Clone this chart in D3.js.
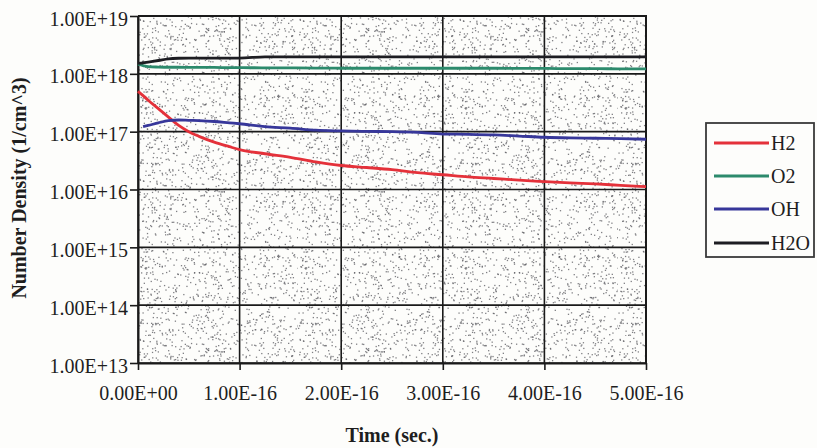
<!DOCTYPE html>
<html>
<head>
<meta charset="utf-8">
<script src="https://cdn.jsdelivr.net/npm/d3@7"></script>
<style>
  html, body { margin: 0; padding: 0; background: #fdfdfb; }
  svg { display: block; }
  text { font-family: "Liberation Serif", "Times New Roman", serif; fill: #1e1e1e; }
</style>
</head>
<body>
<svg id="chart" width="817" height="448"></svg>
<script>
// Time samples, in units of 1e-16 s
const timeUnits = [0, 0.05, 0.1, 0.2, 0.3, 0.4, 0.5, 0.6, 0.75, 0.9, 1.0, 1.25, 1.5, 1.75,
                   2.0, 2.25, 2.5, 2.75, 3.0, 3.25, 3.5, 3.75, 4.0, 4.25, 4.5, 4.75, 5.0];

// Number densities (1/cm^3)
const h2 = [5.0e17, 4.2e17, 3.5e17, 2.5e17, 1.78e17, 1.28e17, 1.0e17, 0.83e17, 6.6e16, 5.5e16,
            4.9e16, 4.15e16, 3.6e16, 3.0e16, 2.6e16, 2.4e16, 2.2e16, 1.95e16, 1.8e16, 1.65e16,
            1.55e16, 1.45e16, 1.37e16, 1.3e16, 1.25e16, 1.18e16, 1.12e16];
const o2 = [1.47e18, 1.39e18, 1.33e18, 1.31e18, 1.30e18, 1.30e18, 1.29e18, 1.29e18, 1.29e18, 1.28e18,
            1.28e18, 1.27e18, 1.27e18, 1.26e18, 1.25e18, 1.25e18, 1.25e18, 1.25e18, 1.25e18, 1.25e18,
            1.25e18, 1.24e18, 1.24e18, 1.23e18, 1.23e18, 1.22e18, 1.22e18];
const oh = [null, 1.22e17, 1.28e17, 1.42e17, 1.55e17, 1.59e17, 1.57e17, 1.55e17, 1.5e17, 1.42e17,
            1.37e17, 1.22e17, 1.15e17, 1.06e17, 1.03e17, 1.01e17, 1.0e17, 0.97e17, 0.91e17, 0.9e17,
            0.88e17, 0.84e17, 0.8e17, 0.78e17, 0.77e17, 0.76e17, 0.74e17];
const h2o = [1.52e18, 1.55e18, 1.6e18, 1.7e18, 1.82e18, 1.86e18, 1.87e18, 1.87e18, 1.87e18, 1.87e18,
             1.87e18, 1.97e18, 1.97e18, 1.97e18, 1.97e18, 1.97e18, 1.97e18, 1.97e18, 1.97e18, 1.97e18,
             1.96e18, 1.96e18, 1.96e18, 1.96e18, 1.96e18, 1.96e18, 1.96e18];

const seriesNames = ["H2", "O2", "OH", "H2O"];
const seriesColors = ["#e4313a", "#2c8a6c", "#37379a", "#1d1d22"];

const xTickValues = [0, 1, 2, 3, 4, 5];
const xTickLabels = ["0.00E+00", "1.00E-16", "2.00E-16", "3.00E-16", "4.00E-16", "5.00E-16"];
const yTickValues = [1e13, 1e14, 1e15, 1e16, 1e17, 1e18, 1e19];
const yTickLabels = ["1.00E+13", "1.00E+14", "1.00E+15", "1.00E+16", "1.00E+17", "1.00E+18", "1.00E+19"];

const svg = d3.select("#chart");
const plot = { left: 138, right: 646, top: 16, bottom: 363 };

const x = d3.scaleLinear().domain([0, 5]).range([plot.left, plot.right]);
const y = d3.scaleLog().domain([1e13, 1e19]).range([plot.bottom, plot.top]);

// Stippled fill for the plotting area (seeded generator so the texture is stable)
function mulberry32(a) {
  return function () {
    a |= 0; a = (a + 0x6D2B79F5) | 0;
    let t = Math.imul(a ^ (a >>> 15), 1 | a);
    t = (t + Math.imul(t ^ (t >>> 7), 61 | t)) ^ t;
    return ((t ^ (t >>> 14)) >>> 0) / 4294967296;
  };
}
const rng = mulberry32(20240611);
const defs = svg.append("defs");
const tile = 160;
const pat = defs.append("pattern")
  .attr("id", "stipple")
  .attr("patternUnits", "userSpaceOnUse")
  .attr("x", plot.left).attr("y", plot.top)
  .attr("width", tile).attr("height", tile);
pat.append("rect").attr("width", tile).attr("height", tile).attr("fill", "#fdfdfb");
for (let i = 0; i < 1150; i++) {
  pat.append("rect")
    .attr("x", (rng() * tile).toFixed(2)).attr("y", (rng() * tile).toFixed(2))
    .attr("width", 1.3).attr("height", 1.3)
    .attr("fill", "#56565c").attr("opacity", 0.75);
}

svg.append("rect")
  .attr("x", plot.left).attr("y", plot.top)
  .attr("width", plot.right - plot.left).attr("height", plot.bottom - plot.top)
  .attr("fill", "url(#stipple)");

// Gridlines
const grid = svg.append("g").attr("stroke", "#1a1a1a").attr("stroke-width", 1.6);
grid.selectAll("line.h").data(yTickValues).join("line")
  .attr("x1", plot.left).attr("x2", plot.right)
  .attr("y1", d => y(d)).attr("y2", d => y(d));
grid.selectAll("line.v").data(xTickValues).join("line")
  .attr("y1", plot.top).attr("y2", plot.bottom)
  .attr("x1", d => x(d)).attr("x2", d => x(d));

// Axes
const yAxis = d3.axisLeft(y).tickValues(yTickValues)
  .tickFormat((d, i) => yTickLabels[i]).tickSize(8).tickSizeOuter(0);
const gy = svg.append("g").attr("transform", `translate(${plot.left},0)`).call(yAxis);
gy.select(".domain").attr("stroke", "#1a1a1a").attr("stroke-width", 2);
gy.selectAll(".tick line").attr("stroke", "#1a1a1a").attr("stroke-width", 1.6);
gy.selectAll(".tick text")
  .attr("x", -10).attr("dy", "9px")
  .style("font-size", "20px").style("font-family", "Liberation Serif, serif").attr("fill", "#1e1e1e");

const xAxis = d3.axisBottom(x).tickValues(xTickValues)
  .tickFormat((d, i) => xTickLabels[i]).tickSize(7).tickSizeOuter(0);
const gx = svg.append("g").attr("transform", `translate(0,${plot.bottom})`).call(xAxis);
gx.select(".domain").attr("stroke", "#1a1a1a").attr("stroke-width", 2);
gx.selectAll(".tick line").attr("stroke", "#1a1a1a").attr("stroke-width", 1.6);
gx.selectAll(".tick text")
  .attr("y", 37).attr("dy", 0)
  .style("font-size", "20px").style("font-family", "Liberation Serif, serif").attr("fill", "#1e1e1e");

// Plot frame (top and right edges)
svg.append("path")
  .attr("d", `M${plot.left},${plot.top}H${plot.right}V${plot.bottom}`)
  .attr("fill", "none").attr("stroke", "#1a1a1a").attr("stroke-width", 2);

// Series lines
const allSeries = [h2, o2, oh, h2o];
const line = d3.line()
  .defined(d => d.v !== null)
  .curve(d3.curveMonotoneX)
  .x(d => x(d.t)).y(d => y(d.v));
allSeries.forEach((vals, k) => {
  const pts = timeUnits.map((t, i) => ({ t, v: vals[i] }));
  svg.append("path")
    .datum(pts)
    .attr("d", line)
    .attr("fill", "none")
    .attr("stroke", seriesColors[k])
    .attr("stroke-width", 2.8)
    .attr("stroke-linejoin", "round");
});

// Axis titles
svg.append("text")
  .attr("x", (plot.left + plot.right) / 2).attr("y", 442)
  .attr("text-anchor", "middle")
  .style("font-size", "20px").style("font-weight", "bold")
  .text("Time (sec.)");
svg.append("text")
  .attr("transform", "translate(26,188) rotate(-90)")
  .attr("text-anchor", "middle")
  .style("font-size", "20px").style("font-weight", "bold")
  .text("Number Density (1/cm^3)");

// Legend
const legend = svg.append("g");
legend.append("rect")
  .attr("x", 706).attr("y", 123).attr("width", 108).attr("height", 134)
  .attr("fill", "#fdfdfb").attr("stroke", "#3a3a3a").attr("stroke-width", 1.8);
const rowY = [143, 176, 209, 243];
seriesNames.forEach((name, k) => {
  legend.append("line")
    .attr("x1", 714).attr("x2", 769)
    .attr("y1", rowY[k]).attr("y2", rowY[k])
    .attr("stroke", seriesColors[k]).attr("stroke-width", 2.8);
  legend.append("text")
    .attr("x", 771).attr("y", rowY[k]).attr("dy", "0.35em")
    .style("font-size", "20px")
    .text(name);
});
</script>
</body>
</html>
